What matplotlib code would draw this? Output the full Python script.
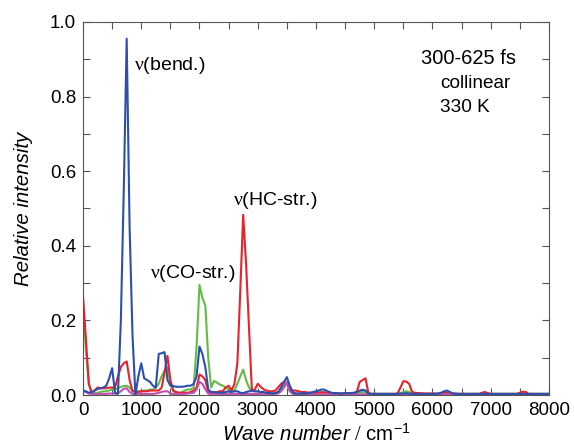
import numpy as np
import matplotlib
matplotlib.use("Agg")
import matplotlib.pyplot as plt
from matplotlib.ticker import MultipleLocator

plt.rcParams['font.family'] = ['Liberation Sans', 'DejaVu Sans']
plt.rcParams['mathtext.fontset'] = 'custom'
plt.rcParams['mathtext.rm'] = 'Liberation Serif'
plt.rcParams['mathtext.it'] = 'Liberation Sans:italic'

# wave numbers, step 50 cm^-1, 0..8000
wavenumber = list(range(0, 8001, 50))

blue = [
    # 0-950
    0.012, 0.010, 0.006, 0.008, 0.012, 0.016, 0.018, 0.020, 0.025, 0.045,
    0.072, 0.005, 0.003, 0.200, 0.550, 0.955, 0.450, 0.160, 0.000, 0.050,
    # 1000-1950
    0.085, 0.045, 0.040, 0.035, 0.025, 0.020, 0.110, 0.112, 0.115, 0.040,
    0.025, 0.024, 0.022, 0.022, 0.022, 0.023, 0.025, 0.025, 0.030, 0.050,
    # 2000-2950
    0.130, 0.110, 0.075, 0.015, 0.008, 0.008, 0.007, 0.006, 0.006, 0.008,
    0.010, 0.008, 0.010, 0.010, 0.006, 0.005, 0.008, 0.010, 0.012, 0.010,
    # 3000-3950
    0.010, 0.008, 0.008, 0.006, 0.005, 0.004, 0.005, 0.008, 0.020, 0.035,
    0.048, 0.025, 0.008, 0.004, 0.004, 0.004, 0.004, 0.005, 0.006, 0.008,
    # 4000-4950
    0.010, 0.012, 0.015, 0.014, 0.010, 0.007, 0.005, 0.005, 0.004, 0.004,
    0.005, 0.005, 0.005, 0.006, 0.008, 0.012, 0.014, 0.012, 0.004, 0.003,
    # 5000-5950
    0.003, 0.003, 0.003, 0.003, 0.003, 0.003, 0.003, 0.003, 0.003, 0.004,
    0.004, 0.005, 0.004, 0.003, 0.003, 0.003, 0.003, 0.003, 0.003, 0.003,
    # 6000-6950
    0.003, 0.003, 0.004, 0.006, 0.010, 0.012, 0.008, 0.004, 0.003, 0.003,
    0.003, 0.003, 0.003, 0.003, 0.003, 0.003, 0.003, 0.003, 0.003, 0.003,
    # 7000-8000
    0.003, 0.003, 0.003, 0.003, 0.003, 0.003, 0.003, 0.003, 0.003, 0.003,
    0.003, 0.003, 0.003, 0.003, 0.003, 0.003, 0.003, 0.003, 0.003, 0.003,
    0.003,
]

red = [
    # 0-950
    0.265, 0.150, 0.030, 0.006, 0.012, 0.020, 0.018, 0.018, 0.018, 0.020,
    0.020, 0.020, 0.050, 0.075, 0.085, 0.090, 0.040, 0.010, 0.008, 0.008,
    # 1000-1950
    0.010, 0.010, 0.010, 0.012, 0.012, 0.012, 0.012, 0.020, 0.060, 0.105,
    0.040, 0.012, 0.008, 0.006, 0.006, 0.006, 0.006, 0.008, 0.012, 0.020,
    # 2000-2950
    0.055, 0.050, 0.040, 0.008, 0.005, 0.006, 0.008, 0.010, 0.010, 0.020,
    0.025, 0.012, 0.030, 0.085, 0.280, 0.483, 0.350, 0.180, 0.010, 0.015,
    # 3000-3950
    0.030, 0.022, 0.015, 0.012, 0.010, 0.010, 0.012, 0.020, 0.030, 0.035,
    0.030, 0.015, 0.012, 0.012, 0.010, 0.008, 0.008, 0.007, 0.006, 0.006,
    # 4000-4950
    0.006, 0.006, 0.007, 0.007, 0.006, 0.005, 0.005, 0.005, 0.004, 0.004,
    0.004, 0.004, 0.004, 0.005, 0.008, 0.035, 0.040, 0.045, 0.005, 0.003,
    # 5000-5950
    0.003, 0.003, 0.003, 0.003, 0.003, 0.003, 0.003, 0.003, 0.004, 0.020,
    0.037, 0.036, 0.030, 0.008, 0.006, 0.005, 0.005, 0.004, 0.004, 0.004,
    # 6000-6950
    0.004, 0.004, 0.004, 0.005, 0.006, 0.007, 0.005, 0.004, 0.004, 0.003,
    0.003, 0.003, 0.003, 0.003, 0.003, 0.003, 0.003, 0.006, 0.008, 0.005,
    # 7000-8000
    0.003, 0.003, 0.003, 0.003, 0.003, 0.003, 0.003, 0.003, 0.003, 0.003,
    0.006, 0.009, 0.008, 0.003, 0.003, 0.003, 0.003, 0.003, 0.003, 0.003,
    0.003,
]

green = [
    # 0-950
    0.250, 0.120, 0.030, 0.004, 0.005, 0.006, 0.008, 0.010, 0.010, 0.012,
    0.015, 0.015, 0.018, 0.022, 0.024, 0.025, 0.020, 0.012, 0.010, 0.010,
    # 1000-1950
    0.010, 0.012, 0.012, 0.014, 0.015, 0.020, 0.030, 0.050, 0.065, 0.075,
    0.030, 0.010, 0.006, 0.006, 0.008, 0.012, 0.015, 0.015, 0.020, 0.130,
    # 2000-2950
    0.295, 0.260, 0.240, 0.100, 0.020, 0.038, 0.033, 0.028, 0.025, 0.020,
    0.015, 0.010, 0.012, 0.030, 0.050, 0.068, 0.040, 0.020, 0.012, 0.010,
    # 3000-3950
    0.010, 0.008, 0.006, 0.005, 0.005, 0.005, 0.006, 0.008, 0.015, 0.025,
    0.030, 0.012, 0.006, 0.004, 0.004, 0.004, 0.004, 0.004, 0.005, 0.006,
    # 4000-4950
    0.006, 0.007, 0.008, 0.007, 0.006, 0.005, 0.004, 0.004, 0.004, 0.004,
    0.004, 0.004, 0.004, 0.005, 0.006, 0.008, 0.008, 0.007, 0.004, 0.003,
    # 5000-5950
    0.003, 0.003, 0.003, 0.003, 0.003, 0.003, 0.003, 0.003, 0.003, 0.005,
    0.008, 0.010, 0.008, 0.004, 0.003, 0.003, 0.003, 0.003, 0.003, 0.003,
    # 6000-6950
    0.003, 0.003, 0.003, 0.004, 0.005, 0.005, 0.004, 0.003, 0.003, 0.003,
    0.003, 0.003, 0.003, 0.003, 0.003, 0.003, 0.003, 0.003, 0.003, 0.003,
    # 7000-8000
    0.003, 0.003, 0.003, 0.003, 0.003, 0.003, 0.003, 0.003, 0.003, 0.003,
    0.003, 0.003, 0.003, 0.003, 0.003, 0.003, 0.003, 0.003, 0.003, 0.003,
    0.003,
]

magenta = [
    # 0-950
    0.010, 0.008, 0.004, 0.003, 0.003, 0.003, 0.003, 0.003, 0.003, 0.004,
    0.004, 0.004, 0.005, 0.010, 0.017, 0.018, 0.008, 0.003, 0.003, 0.003,
    # 1000-1950
    0.003, 0.003, 0.003, 0.003, 0.003, 0.004, 0.006, 0.008, 0.010, 0.010,
    0.004, 0.003, 0.003, 0.003, 0.003, 0.003, 0.004, 0.005, 0.006, 0.015,
    # 2000-2950
    0.035, 0.030, 0.015, 0.004, 0.003, 0.003, 0.003, 0.003, 0.003, 0.003,
    0.003, 0.003, 0.003, 0.003, 0.003, 0.003, 0.003, 0.003, 0.003, 0.003,
    # 3000-3950
    0.003, 0.003, 0.003, 0.003, 0.003, 0.003, 0.003, 0.004, 0.010, 0.020,
    0.035, 0.010, 0.003, 0.002, 0.002, 0.002, 0.002, 0.002, 0.002, 0.002,
] + [0.002] * 81

fig = plt.figure(figsize=(5.74, 4.48), dpi=100)
ax = fig.add_axes([0.1446, 0.1183, 0.8118, 0.8327])

lw = 1.5
ax.plot(wavenumber, green, color='#62bd46', lw=lw)
ax.plot(wavenumber, red, color='#e8212b', lw=lw)
ax.plot(wavenumber, magenta, color='#c04fb0', lw=lw)
ax.plot(wavenumber, blue, color='#2a4fae', lw=lw)

ax.set_xlim(0, 8000)
ax.set_ylim(0, 1.0)
ax.xaxis.set_major_locator(MultipleLocator(1000))
ax.xaxis.set_minor_locator(MultipleLocator(500))
ax.yaxis.set_major_locator(MultipleLocator(0.2))
ax.yaxis.set_minor_locator(MultipleLocator(0.1))
ax.yaxis.set_major_formatter(matplotlib.ticker.FormatStrFormatter('%.1f'))
ax.tick_params(which='both', direction='in', top=True, right=True,
               labelsize=13.5, color='#555555', width=0.8)
ax.tick_params(which='major', length=5, pad=5)
ax.tick_params(which='minor', length=5)
for s in ax.spines.values():
    s.set_color('#555555')
    s.set_linewidth(0.8)

ax.set_xlabel('$\\mathit{Wave\\ number\\ /}$ cm$^{\\mathregular{-1}}$', fontsize=14.7, labelpad=3)
ax.set_ylabel('Relative intensity', fontsize=14.7, style='italic', labelpad=12)

ax.text(5798, 0.903, '300-625 fs', fontsize=14.5, ha='left', va='center')
ax.text(6125, 0.836, 'collinear', fontsize=13.7, ha='left', va='center')
ax.text(6125, 0.771, '330 K', fontsize=13.7, ha='left', va='center')

ax.text(877, 0.884, '$\\mathrm{\\nu}$(bend.)', fontsize=14, ha='left', va='center')
ax.text(2581, 0.522, '$\\mathrm{\\nu}$(HC-str.)', fontsize=14, ha='left', va='center')
ax.text(1153, 0.327, '$\\mathrm{\\nu}$(CO-str.)', fontsize=14, ha='left', va='center')

fig.savefig('out.png', dpi=100)
